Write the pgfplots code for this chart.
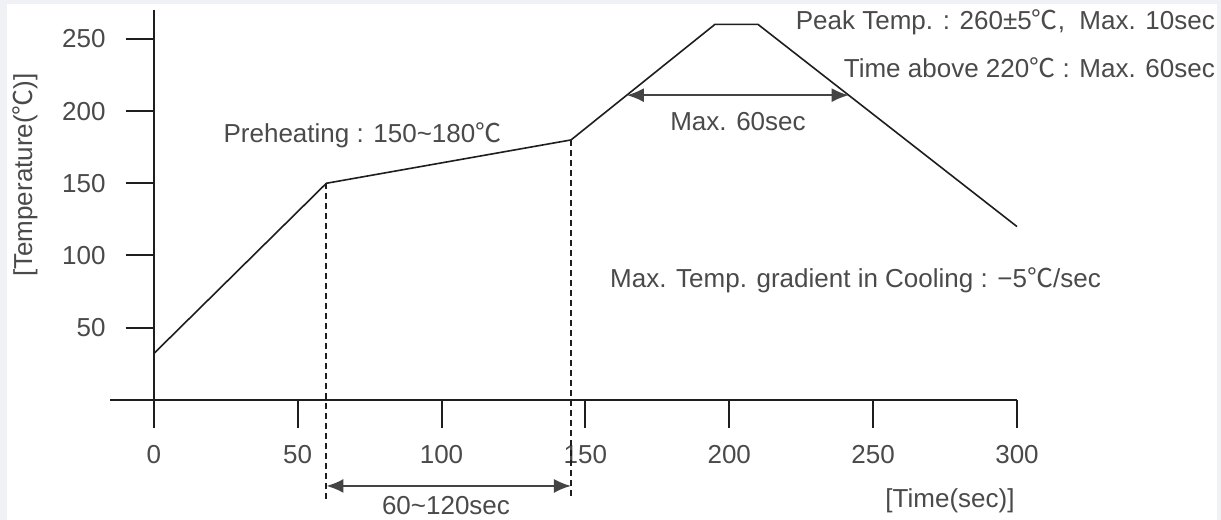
\documentclass[border=0pt]{standalone}
\usepackage{fontspec}
\setmainfont{Liberation Sans}
\newfontfamily\cjk{Noto Sans CJK KR}
\usepackage{pgfplots}
\pgfplotsset{compat=1.18}
\usetikzlibrary{arrows.meta}

\definecolor{bggray}{HTML}{F0F1F4}
\definecolor{txt}{HTML}{4A4A4A}
\definecolor{curve}{HTML}{1E1E1E}
\definecolor{arr}{HTML}{444444}

\newcommand\degc{{\cjk ℃}}
\newcommand\lbl{\fontsize{26bp}{31bp}\selectfont}

\begin{document}
\begin{tikzpicture}[x=1bp,y=1bp]
  \useasboundingbox (0,0) rectangle (1221,520);
  \fill[bggray] (0,0) rectangle (1221,520);
  \fill[white] (7,0) rectangle (1217,516);

  \begin{axis}[
    at={(110bp,97bp)}, anchor=south west,
    scale only axis,
    width=907bp, height=413bp,
    xmin=-15.2, xmax=300,
    ymin=-16, ymax=270,
    axis lines=middle,
    axis line style={-, line width=2.4bp, curve},
    hide obscured x ticks=false,
    hide obscured y ticks=false,
    xtick={0,50,...,300},
    ytick={50,100,...,250},
    tick align=outside,
    major tick length=28bp,
    tick style={line width=2bp, curve},
    /pgf/number format/assume math mode=true,
    ticklabel style={font=\lbl, text=txt, inner sep=0pt},
    xticklabel style={anchor=north, yshift=-17bp},
    yticklabel style={anchor=east, xshift=-20bp},
    clip=false,
  ]
    % reflow profile
    \addplot[curve, line width=1.6bp] coordinates {
      (0,32) (60,150) (145,180) (195,260) (210,260) (300,120)
    };
    % preheating limits
    \addplot[curve, line width=2.2bp, dash pattern=on 6bp off 4bp] coordinates {(60,150) (60,-69)};
    \addplot[curve, line width=2.2bp, dash pattern=on 6bp off 4bp] coordinates {(145,180) (145,-69)};
    % interval arrows
    \addplot[arr, line width=2bp, {Latex[length=17bp,width=14bp]}-{Latex[length=17bp,width=14bp]}]
      coordinates {(60,-59.6) (145,-59.6)};
    \addplot[arr, line width=2bp, {Latex[length=17bp,width=14bp]}-{Latex[length=17bp,width=14bp]}]
      coordinates {(164.4,211) (241.5,211)};
  \end{axis}

  \begin{scope}[every node/.style={font=\lbl, text=txt, inner sep=0pt}]
    \node at (362.5,385) {Preheating : 150\textasciitilde180\degc};
    \node[anchor=east] at (1215,498) {Peak Temp. : 260±5\degc,\ \ Max. 10sec};
    \node[anchor=east] at (1215,452) {Time above 220\degc\ : Max. 60sec};
    \node at (738,398) {Max. 60sec};
    \node[anchor=west] at (610,240) {Max. Temp. gradient in Cooling : −5\degc/sec};
    \node at (446,14) {60\textasciitilde120sec};
    \node at (950,19) {[Time(sec)]};
    \node[rotate=90] at (25,345) {[Temperature(\degc)]};
  \end{scope}
\end{tikzpicture}
\end{document}
